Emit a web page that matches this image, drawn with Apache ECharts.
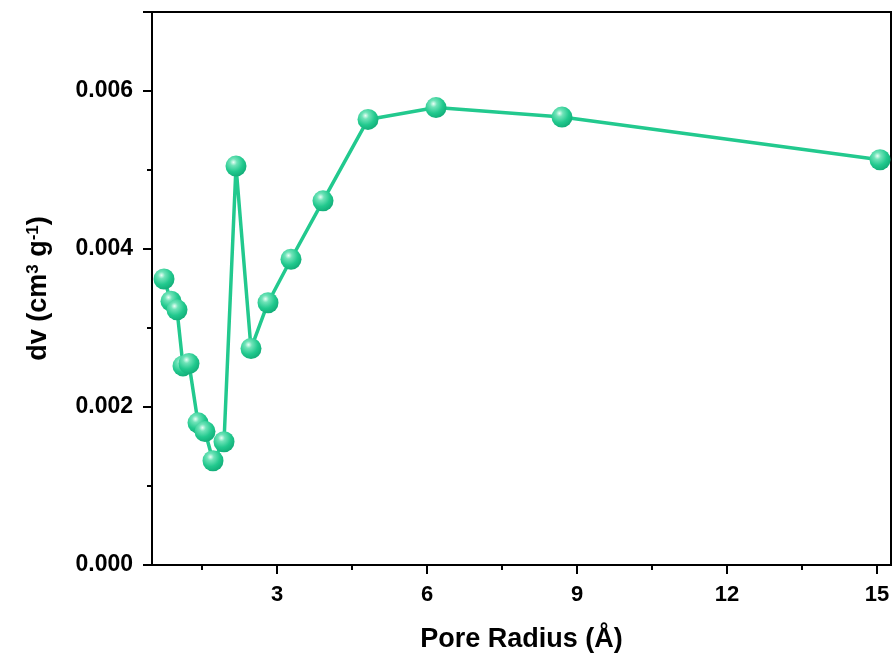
<!DOCTYPE html>
<html>
<head>
<meta charset="utf-8">
<script src="https://cdn.jsdelivr.net/npm/echarts@6/dist/echarts.min.js"></script>
<style>
  html, body { margin: 0; padding: 0; background: #fff; }
  #chart { width: 896px; height: 658px; }
</style>
</head>
<body>
<div id="chart"></div>
<script>
// pore radius (Å) and dv (cm3 g-1)
const poreRadius = [0.74, 0.88, 1.0, 1.12, 1.24, 1.42, 1.56, 1.72, 1.94, 2.18, 2.48, 2.82, 3.28, 3.92, 4.82, 6.18, 8.7, 15.06];
const dv = [0.00362, 0.00334, 0.00323, 0.00252, 0.00255, 0.00180, 0.00169, 0.00132, 0.00156, 0.00505, 0.00274, 0.00332, 0.00387, 0.00461, 0.00564, 0.00579, 0.00567, 0.00513];
const xMajorTicks = [3, 6, 9, 12, 15];
const xMinorTicks = [1.5, 4.5, 7.5, 10.5, 13.5];

const lineColor = '#22c98e';
const font = 'Liberation Sans, Arial, sans-serif';

let chart = echarts.init(document.getElementById('chart'));

let xBase = {
  type: 'value',
  min: 0.5,
  max: 15.28,
  splitLine: { show: false },
  axisLine: { lineStyle: { color: '#000', width: 2 } }
};

let option = {
  animation: false,
  backgroundColor: '#fff',
  grid: {
    left: 152, right: 5, top: 12, bottom: 92,
    show: true, borderColor: '#000', borderWidth: 2
  },
  xAxis: [
    Object.assign({}, xBase, {
      name: 'Pore Radius (Å)',
      nameLocation: 'middle',
      nameGap: 61,
      nameTextStyle: { fontFamily: font, fontWeight: 'bold', fontSize: 27, color: '#000' },
      axisTick: { show: true, customValues: xMajorTicks, length: 9, lineStyle: { color: '#000', width: 2 } },
      axisLabel: { customValues: xMajorTicks, fontFamily: font, fontWeight: 'bold', fontSize: 22, color: '#000', margin: 19 }
    }),
    Object.assign({}, xBase, {
      axisTick: { show: true, customValues: xMinorTicks, length: 5, lineStyle: { color: '#000', width: 2 } },
      axisLabel: { show: false, customValues: xMinorTicks },
      position: 'bottom'
    })
  ],
  yAxis: {
    type: 'value',
    min: 0,
    max: 0.007,
    interval: 0.002,
    name: 'dv (cm{sup|3} g{sup|-1})',
    nameLocation: 'middle',
    nameGap: 100,
    nameTextStyle: {
      fontFamily: font, fontWeight: 'bold', fontSize: 27, color: '#000',
      rich: {
        sup: { fontFamily: font, fontWeight: 'bold', fontSize: 17, color: '#000', verticalAlign: 'top', padding: [0, 0, 10, 0] }
      }
    },
    splitLine: { show: false },
    axisLine: { show: true, lineStyle: { color: '#000', width: 2 } },
    axisTick: { show: true, length: 9, lineStyle: { color: '#000', width: 2 } },
    minorTick: { show: true, splitNumber: 2, length: 5, lineStyle: { color: '#000', width: 2 } },
    axisLabel: {
      fontFamily: font, fontWeight: 'bold', fontSize: 23, color: '#000', margin: 19,
      formatter: v => v.toFixed(3),
      showMaxLabel: false
    }
  },
  series: [{
    type: 'line',
    data: poreRadius.map((x, i) => [x, dv[i]]),
    symbol: 'circle',
    symbolSize: 21,
    lineStyle: { color: lineColor, width: 3.5 },
    itemStyle: {
      color: {
        type: 'radial', x: 0.38, y: 0.32, r: 0.75,
        colorStops: [
          { offset: 0, color: '#eafff6' },
          { offset: 0.22, color: '#6fe3b8' },
          { offset: 0.6, color: '#22c98e' },
          { offset: 1, color: '#0fa874' }
        ]
      }
    },
    z: 3
  }]
};

chart.setOption(option);
</script>
</body>
</html>
